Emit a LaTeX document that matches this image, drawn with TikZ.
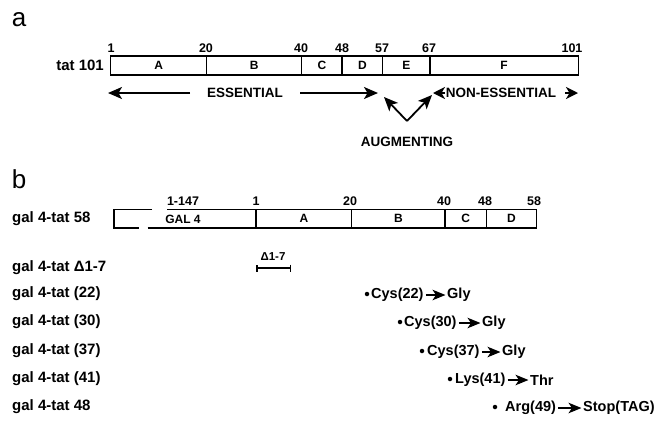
\documentclass[tikz,border=0pt]{standalone}
\usepackage{fontspec}
\setmainfont{Liberation Sans}
\usetikzlibrary{arrows.meta}
\begin{document}
\begin{tikzpicture}[x=1pt,y=-1pt,
  seg/.style={draw,line width=1.5pt,inner sep=0pt,outer sep=0pt,anchor=west,font=\bfseries\fontsize{12}{12}\selectfont},
  segA/.style={seg,minimum height=19pt},
  segB/.style={seg,minimum height=18.5pt},
  num/.style={inner sep=0pt,font=\bfseries\fontsize{12.5}{13}\selectfont},
  lbl/.style={inner sep=0pt,font=\bfseries\fontsize{15}{16}\selectfont},
  captxt/.style={inner sep=0pt,font=\bfseries\fontsize{13.5}{14}\selectfont},
  mut/.style={inner sep=0pt,anchor=west,font=\bfseries\fontsize{14.5}{15}\selectfont},
  dotn/.style={circle,fill,inner sep=0pt,minimum size=4.5pt},
  big/.style={line width=1.8pt,-{Stealth[length=14pt,width=12pt,inset=3.5pt]}},
  headonly/.style={line width=1.8pt,-{Stealth[length=12pt,width=12pt,inset=3.5pt]}},
  marr/.style={line width=1.7pt,-{Stealth[length=13pt,width=10.5pt,inset=3.5pt]},shorten <=2pt,shorten >=1.5pt},
  boxline/.style={line width=1.5pt}
]
\useasboundingbox (0,0) rectangle (662,429);

% ---------- part a ----------
\node[inner sep=0pt,font=\fontsize{26}{26}\selectfont] (la) at (19,20) {a};

\node[segA,minimum width=96pt]   (aA) at (110.7,65.5) {A};
\node[segA,minimum width=95pt]   (aB) at (aA.east) {B};
\node[segA,minimum width=40.3pt] (aC) at (aB.east) {C};
\node[segA,minimum width=40.7pt] (aD) at (aC.east) {D};
\node[segA,minimum width=47.3pt] (aE) at (aD.east) {E};
\node[segA,minimum width=148.3pt](aF) at (aE.east) {F};

\node[lbl,anchor=east] (tat) at (104,65.5) {tat 101};

\node[num] (n1)   at (111,48) {1};
\node[num] (n20)  at (206,48) {20};
\node[num] (n40)  at (301,48) {40};
\node[num] (n48)  at (342,48) {48};
\node[num] (n57)  at (382,48) {57};
\node[num] (n67)  at (429,48) {67};
\node[num] (n101) at (572,48) {101};

\node[captxt] (ess) at (245,93) {ESSENTIAL};
\node[captxt] (ness) at (501,93) {NON-ESSENTIAL};
\node[captxt] (aug) at (407,142) {AUGMENTING};

\coordinate (essL0) at (190,93);
\coordinate (essL1) at (108,93);
\coordinate (essR0) at (300,93);
\coordinate (essR1) at (378,93);
\coordinate (vtx) at (407,121);
\coordinate (vL) at (384,97);
\coordinate (vR) at (432,95);
\coordinate (neL0) at (445,93);
\coordinate (neL1) at (433,93);
\coordinate (neR0) at (565,93);
\coordinate (neR1) at (578,93);

\draw[big] (essL0) -- (essL1);
\draw[big] (essR0) -- (essR1);
\draw[big] (vtx) -- (vL);
\draw[big] (vtx) -- (vR);
\draw[headonly] (neL0) -- (neL1);
\draw[headonly] (neR0) -- (neR1);

% ---------- part b ----------
\node[inner sep=0pt,font=\fontsize{26}{26}\selectfont] (lb) at (19,179) {b};

\node[segB,minimum width=95.7pt] (bA) at (256,218.8) {A};
\node[segB,minimum width=93.3pt] (bB) at (bA.east) {B};
\node[segB,minimum width=41.3pt] (bC) at (bB.east) {C};
\node[segB,minimum width=50.4pt] (bD) at (bC.east) {D};

\coordinate (brT1) at (152,209.55);
\coordinate (brTL) at (114,209.55);
\coordinate (brBL) at (114,228.05);
\coordinate (brB1) at (139,228.05);
\coordinate (gT) at (167,209.55);
\coordinate (gB) at (147.7,228.05);
\draw[boxline] (brT1) -- (brTL) -- (brBL) -- (brB1);
\draw[boxline] (gT) -- (bA.north west);
\draw[boxline] (gB) -- (bA.south west);

\node[inner sep=0pt,font=\bfseries\fontsize{12}{12}\selectfont] (gal) at (183,219) {GAL 4};

\node[num] (m147) at (183,201) {1-147};
\node[num] (m1)   at (256,201) {1};
\node[num] (m20)  at (350,201) {20};
\node[num] (m40)  at (444,201) {40};
\node[num] (m48)  at (485,201) {48};
\node[num] (m58)  at (534,201) {58};

\node[lbl,anchor=west] (g58) at (12,219) {gal 4-tat 58};
\node[lbl,anchor=west] (gd)  at (12,268) {gal 4-tat Δ1-7};
\node[lbl,anchor=west] (g22) at (12,294) {gal 4-tat (22)};
\node[lbl,anchor=west] (g30) at (12,322) {gal 4-tat (30)};
\node[lbl,anchor=west] (g37) at (12,351) {gal 4-tat (37)};
\node[lbl,anchor=west] (g41) at (12,379) {gal 4-tat (41)};
\node[lbl,anchor=west] (g48) at (12,407) {gal 4-tat 48};

\node[num,font=\bfseries\fontsize{11.5}{12}\selectfont] (dl) at (273,257) {Δ1-7};
\coordinate (dL) at (256,268);
\coordinate (dR) at (291,268);
\draw[line width=1.5pt,{Bar[width=7pt]}-{Bar[width=7pt]}] (dL) -- (dR);

% mutations
\node[dotn] (p1) at (367,294) {};
\node[mut] (c1) at (371,295) {Cys(22)};
\node[mut] (t1) at (447,295) {Gly};
\draw[marr] (c1) -- (t1);

\node[dotn] (p2) at (400,322) {};
\node[mut] (c2) at (404,323) {Cys(30)};
\node[mut] (t2) at (482,323) {Gly};
\draw[marr] (c2) -- (t2);

\node[dotn] (p3) at (422,351) {};
\node[mut] (c3) at (427,352) {Cys(37)};
\node[mut] (t3) at (502,352) {Gly};
\draw[marr] (c3) -- (t3);

\node[dotn] (p4) at (450,379) {};
\node[mut] (c4) at (455,380) {Lys(41)};
\node[mut] (t4) at (530,380) {Thr};
\draw[marr] (c4) -- (t4);

\node[dotn] (p5) at (495,407) {};
\node[mut] (c5) at (505,408) {Arg(49)};
\node[mut] (t5) at (583,408) {Stop(TAG)};
\draw[marr] (c5) -- (t5);
\end{tikzpicture}
\end{document}
